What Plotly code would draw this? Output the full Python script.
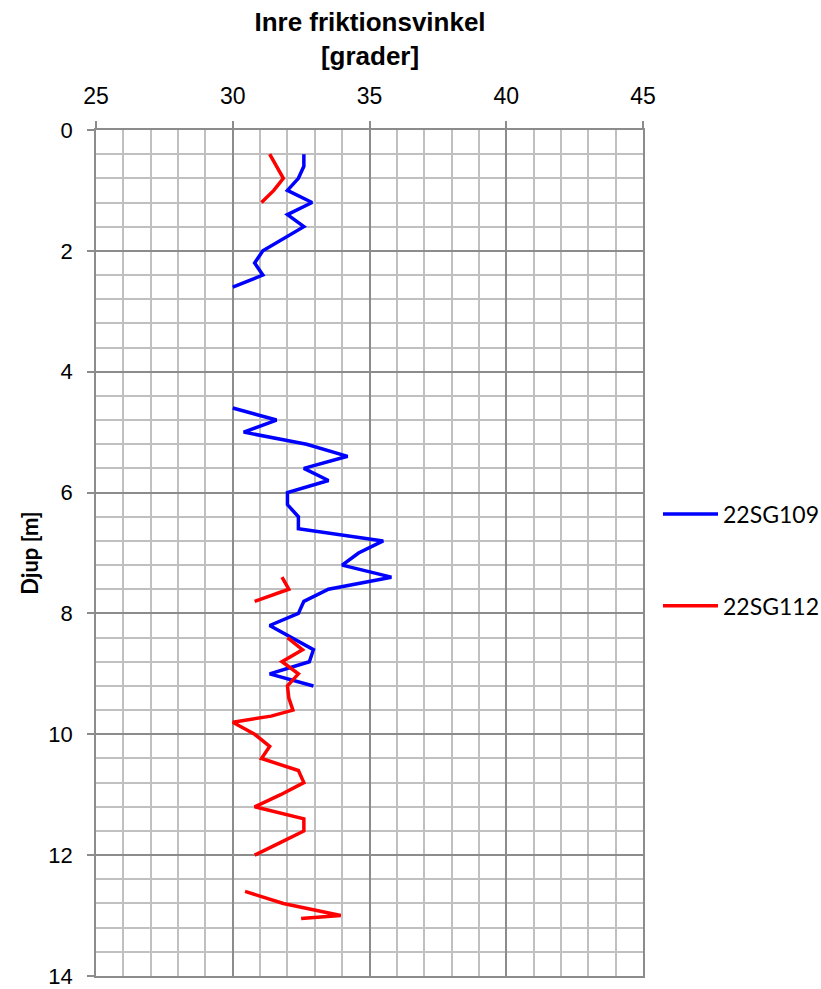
import plotly.graph_objects as go

# Data
depth_109 = [0.4, 0.6, 0.8, 1.0, 1.2, 1.4, 1.6, 1.8, 2.0, 2.2, 2.4, 2.6, None,
             4.6, 4.8, 5.0, 5.2, 5.4, 5.6, 5.8, 6.0, 6.2, 6.4, 6.6, 6.8, 7.0, 7.2,
             7.4, 7.6, 7.8, 8.0, 8.2, 8.4, 8.6, 8.8, 9.0, 9.2]
phi_109 = [32.6, 32.6, 32.4, 32.0, 32.9, 32.0, 32.6, 31.85, 31.1, 30.8, 31.1, 30.0, None,
           30.0, 31.6, 30.4, 32.7, 34.2, 32.6, 33.5, 32.0, 32.0, 32.4, 32.4, 35.5, 34.6, 34.0,
           35.8, 33.5, 32.6, 32.4, 31.35, 32.15, 32.95, 32.8, 31.35, 32.95]

depth_112 = [0.4, 0.6, 0.8, 1.0, 1.2, None,
             7.4, 7.6, 7.8, None,
             8.4, 8.6, 8.8, 9.0, 9.2, 9.4, 9.6, 9.7, 9.8, 10.0, 10.2, 10.4, 10.6,
             10.8, 11.0, 11.2, 11.4, 11.6, 11.8, 12.0, None,
             12.6, 12.8, 13.0, 13.05]
phi_112 = [31.35, 31.6, 31.85, 31.5, 31.05, None,
           31.8, 32.05, 30.8, None,
           32.0, 32.55, 31.8, 32.4, 32.0, 32.05, 32.2, 31.4, 30.0, 30.8, 31.35, 31.05, 32.4,
           32.6, 31.75, 30.8, 32.6, 32.6, 31.7, 30.8, None,
           30.45, 31.85, 33.95, 32.5]

x_ticks = [25, 30, 35, 40, 45]
y_ticks = [0, 2, 4, 6, 8, 10, 12, 14]

tickfam = "Liberation Sans Narrow, Liberation Sans, Arial, sans-serif"
titlefam = "Liberation Sans, Arial, sans-serif"
legfam = "Lato, Carlito, Calibri, sans-serif"

fig = go.Figure()
fig.add_trace(go.Scatter(x=phi_109, y=depth_109, mode="lines", name="22SG109",
                         legendgroup="a", connectgaps=False,
                         line=dict(color="#0000FF", width=3.5)))
fig.add_trace(go.Scatter(x=phi_112, y=depth_112, mode="lines", name="22SG112",
                         legendgroup="b", connectgaps=False,
                         line=dict(color="#FF0000", width=3.5)))

fig.update_layout(
    width=821, height=989,
    margin=dict(l=96, r=178, t=130, b=13),
    paper_bgcolor="white", plot_bgcolor="white",
    title=dict(text="<b>Inre friktionsvinkel<br>[grader]</b>", x=370 / 821, xanchor="center",
               xref="container", yref="container", y=1 - 31 / 989, yanchor="top",
               font=dict(family=titlefam, size=26, color="black")),
    legend=dict(xref="container", yref="container", x=658 / 821, xanchor="left",
                y=1 - 560 / 989, yanchor="middle", itemwidth=55,
                tracegroupgap=59, font=dict(family=legfam, size=23, color="black"),
                bgcolor="rgba(0,0,0,0)"),
    xaxis=dict(side="top", range=[25, 45], tickvals=x_ticks, ticktext=[str(v) for v in x_ticks],
               showgrid=True, gridcolor="#8c8c8c", gridwidth=1.5,
               ticks="outside", ticklen=7, tickcolor="#8c8c8c", tickwidth=1.5,
               ticklabelstandoff=8, automargin=False, ticklabeloverflow="allow",
               showline=True, mirror=True, linecolor="#8c8c8c", linewidth=1.5, zeroline=False,
               tickfont=dict(family=tickfam, size=23, color="black"),
               minor=dict(dtick=1, showgrid=True, gridcolor="#c0c0c0", gridwidth=1.5)),
    yaxis=dict(range=[14, 0], tickvals=y_ticks, ticktext=[str(v) for v in y_ticks],
               showgrid=True, gridcolor="#8c8c8c", gridwidth=1.5,
               ticks="outside", ticklen=7, tickcolor="#8c8c8c", tickwidth=1.5,
               ticklabelstandoff=10, automargin=False, ticklabeloverflow="allow",
               showline=True, mirror=True, linecolor="#8c8c8c", linewidth=1.5, zeroline=False,
               tickfont=dict(family=tickfam, size=22, color="black"),
               title=dict(text="<b>Djup [m]</b>", standoff=4,
                          font=dict(family=legfam, size=22, color="black")),
               minor=dict(dtick=0.4, tick0=0, showgrid=True, gridcolor="#c0c0c0", gridwidth=1.5)),
)

fig.write_html("out.html")
